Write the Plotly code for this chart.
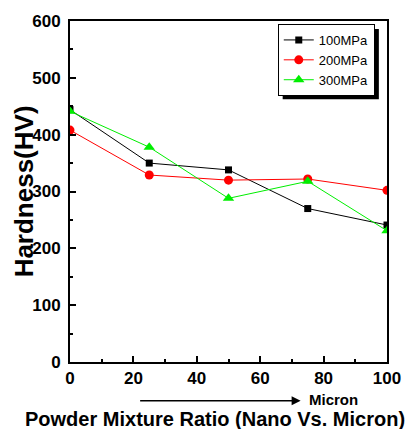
import plotly.graph_objects as go

ratio = [0, 25, 50, 75, 100]
hv_100 = [444, 350, 338, 270, 241]
hv_200 = [408, 329, 320, 322, 302]
hv_300 = [441, 378, 288, 318, 231]
series_names = ["100MPa", "200MPa", "300MPa"]

FONT = "Liberation Sans, Arial, sans-serif"

W, H = 413, 429
ML, MR, MT, MB = 70, 20, 18, 67
PW, PH = W - ML - MR, H - MT - MB

def px(xp):
    return (xp - ML) / PW

def py(yp):
    return (H - MB - yp) / PH

fig = go.Figure()
fig.add_trace(go.Scatter(x=ratio, y=hv_100, name=series_names[0], mode="lines+markers",
                         line=dict(color="black", width=1),
                         marker=dict(symbol="square", size=7, color="black")))
fig.add_trace(go.Scatter(x=ratio, y=hv_200, name=series_names[1], mode="lines+markers",
                         line=dict(color="#ff0000", width=1),
                         marker=dict(symbol="circle", size=9, color="#ff0000")))
fig.add_trace(go.Scatter(x=ratio, y=hv_300, name=series_names[2], mode="lines+markers",
                         line=dict(color="#00ee00", width=1),
                         marker=dict(symbol="triangle-up", size=10, color="#00ee00")))

axis_common = dict(showline=True, linecolor="black", linewidth=2, mirror=True,
                   showgrid=False, zeroline=False, ticks="inside", ticklen=6,
                   tickwidth=1.5, tickcolor="black",
                   tickfont=dict(family=FONT, size=17, color="black", weight="bold"))

fig.update_xaxes(range=[0, 100], dtick=20, tick0=0,
                 minor=dict(ticks="inside", ticklen=3, dtick=10, tickcolor="black", tickwidth=1.5),
                 **axis_common)
fig.update_yaxes(range=[0, 600], dtick=100, tick0=0,
                 minor=dict(ticks="inside", ticklen=3, dtick=50, tickcolor="black", tickwidth=1.5),
                 ticklabelstandoff=4,
                 **axis_common)

LEG_L, LEG_T, LEG_W, LEG_H = 281.7, 21, 98, 71
# legend shadow
fig.add_shape(type="rect", xref="paper", yref="paper",
              x0=px(LEG_L + 5), x1=px(LEG_L + LEG_W + 5),
              y0=py(LEG_T + LEG_H + 5), y1=py(LEG_T + 5),
              fillcolor="black", line=dict(width=0), layer="above")

fig.update_layout(
    width=W, height=H,
    margin=dict(l=ML, r=MR, t=MT, b=MB),
    paper_bgcolor="white", plot_bgcolor="white",
    showlegend=True,
    legend=dict(x=px(LEG_L), y=py(LEG_T), xanchor="left", yanchor="top",
                bgcolor="white", bordercolor="black", borderwidth=1,
                font=dict(family=FONT, size=13, color="black"),
                tracegroupgap=0, itemwidth=30),
    annotations=[
        dict(text="Hardness(HV)", textangle=-90, xref="paper", yref="paper",
             x=px(23), y=0.5, xanchor="center", yanchor="middle", showarrow=False,
             font=dict(family=FONT, size=26, color="black", weight="bold")),
        dict(text="Powder Mixture Ratio (Nano Vs. Micron)", xref="paper", yref="paper",
             x=px(217.5), y=py(420), xanchor="center", yanchor="middle", showarrow=False,
             borderpad=0,
             font=dict(family=FONT, size=20, color="black", weight="bold")),
        dict(text="Micron", xref="paper", yref="paper",
             x=px(338.5), y=py(399.5), xanchor="center", yanchor="middle", showarrow=False,
             borderpad=0,
             font=dict(family=FONT, size=15, color="black", weight="bold")),
        dict(text="", xref="paper", yref="paper", x=px(305), y=py(401),
             ax=-162, ay=0, axref="pixel", ayref="pixel", showarrow=True,
             arrowhead=2, arrowsize=1.2, arrowwidth=1.5, arrowcolor="black"),
    ],
)

fig.write_html("out.html")
